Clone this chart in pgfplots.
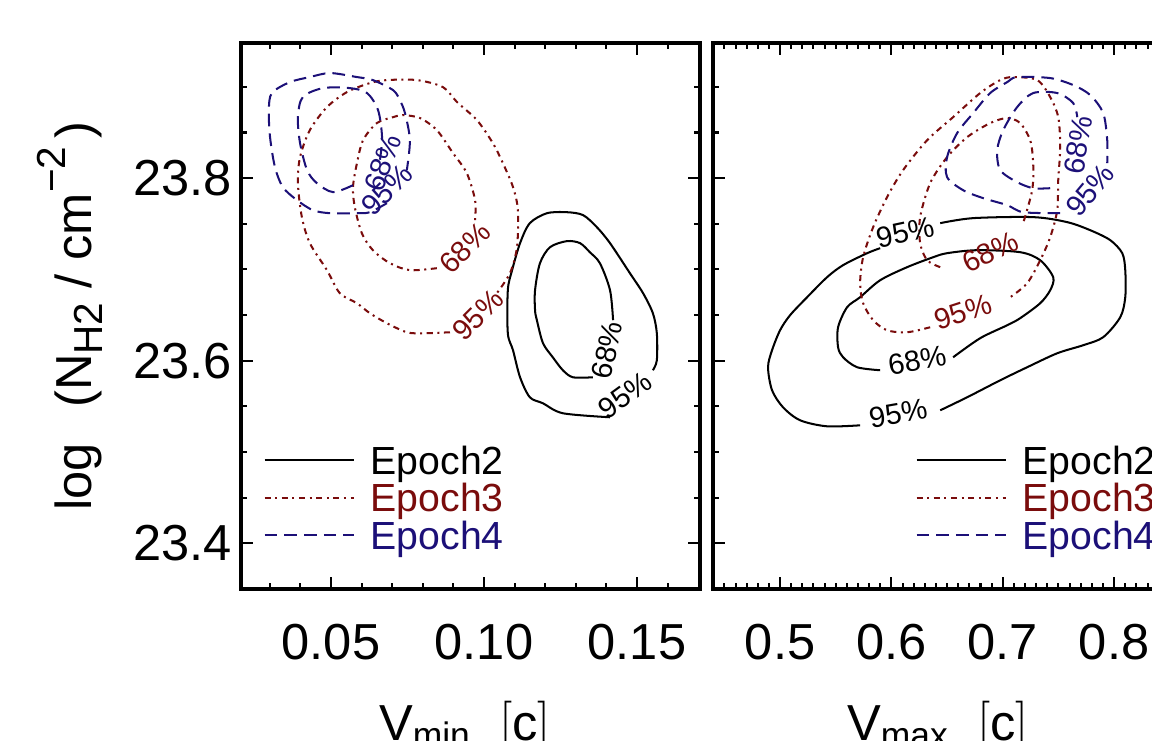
\documentclass[border=0pt]{standalone}
\usepackage{fontspec}
\setmainfont{Liberation Sans}
\usepackage{pgfplots}
\pgfplotsset{compat=1.18}
\definecolor{epThree}{HTML}{7A0C0C}
\definecolor{epFour}{HTML}{1C1078}

\pgfplotsset{
  panel/.style={
    scale only axis, width=6.375cm, height=7.583cm,
    ymin=23.35, ymax=23.948,
    ytick={23.4,23.6,23.8},
    minor ytick={23.45,23.5,23.55,23.65,23.7,23.75,23.85,23.9},
    axis line style={line width=1.3pt},
    tick style={line width=0.8pt, black},
    major tick length=0.16cm, minor tick length=0.08cm,
    tick align=inside,
    tick label style={font=\fontsize{20}{24}\selectfont},
    /pgf/number format/assume math mode=true,
    xticklabel style={yshift=-0.37cm},
    label style={font=\fontsize{20}{24}\selectfont},
    legend cell align=left,
    legend image code/.code={\draw[##1] (0cm,1.5pt) -- (1.24cm,1.5pt);},
    legend style={draw=none, fill=none, inner sep=0pt, column sep=0.22cm,
      row sep=0.3pt, nodes={inner sep=0pt, text height=11.2pt, text depth=3.3pt},
      font=\fontsize{15.5}{17}\selectfont, anchor=west},
  },
  l2/.style={black, line width=0.8pt},
  l3/.style={epThree, line width=0.8pt, dash pattern=on 2.4pt off 1.8pt on 0.8pt off 1.8pt},
  l4/.style={epFour, line width=0.8pt, dash pattern=on 5pt off 2.8pt},
  c2/.style={l2, smooth, forget plot},
  c3/.style={l3, smooth, forget plot},
  c4/.style={l4, smooth, forget plot},
}
\tikzset{clab/.style={font=\fontsize{11.5}{12}\selectfont, inner sep=0.5pt}}
\newcommand{\lowidx}[1]{\raisebox{-0.22em}{\fontsize{16}{16}\selectfont #1}}
\newcommand{\highidx}[1]{\raisebox{0.5em}{\fontsize{16}{16}\selectfont #1}}

\begin{document}
\begin{tikzpicture}
\path[use as bounding box] (0,0) rectangle (16cm,10.2917cm);
\clip (0,0) rectangle (16cm,10.2917cm);

% left panel: V_min
\begin{axis}[panel, at={(3.347cm,2.111cm)}, anchor=south west,
  xmin=0.0206, xmax=0.1706,
  xtick={0.05,0.10,0.15}, xticklabels={0.05,0.10,0.15},
  minor xtick={0.03,0.04,0.06,0.07,0.08,0.09,0.11,0.12,0.13,0.14,0.16},
  yticklabels={23.4,23.6,23.8},
  xlabel={V\textsubscript{min}\ \ $\Bigl[$c$\Bigr]$},
  xlabel style={at={(axis description cs:0.488,-0.2766)}, anchor=base},
  ylabel={log\hspace{0.7em}(N\lowidx{H2}\;/\;cm\highidx{−2}\,)},
  ylabel style={at={(axis description cs:-0.3725,0.5)}, anchor=center},
  legend style={at={(axis description cs:0.048,0.16)}},
]
% Epoch2
\addplot[c2] coordinates {(0.1552,23.5896) (0.1565,23.6005) (0.1565,23.6301) (0.1552,23.6521) (0.1520,23.6740) (0.1477,23.6959) (0.1412,23.7288) (0.1369,23.7463) (0.1324,23.7595) (0.1271,23.7627) (0.1206,23.7616) (0.1150,23.7507) (0.1118,23.7288) (0.1092,23.6992) (0.1078,23.6773) (0.1078,23.6301) (0.1095,23.6115) (0.1118,23.5819) (0.1150,23.5600) (0.1193,23.5534) (0.1258,23.5425) (0.1412,23.5381)};
\addplot[c2] coordinates {(0.1422,23.6444) (0.1412,23.6773) (0.1379,23.7068) (0.1346,23.7189) (0.1314,23.7288) (0.1271,23.7310) (0.1216,23.7244) (0.1183,23.7068) (0.1167,23.6773) (0.1167,23.6553) (0.1173,23.6444) (0.1193,23.6192) (0.1225,23.6038) (0.1258,23.5896) (0.1291,23.5819) (0.1356,23.5819)};
% Epoch3
\addplot[c3] coordinates {(0.0889,23.6312) (0.0801,23.6301) (0.0748,23.6312) (0.0683,23.6411) (0.0627,23.6521) (0.0585,23.6630) (0.0529,23.6740) (0.0487,23.6992) (0.0431,23.7288) (0.0405,23.7573) (0.0392,23.7945) (0.0399,23.8230) (0.0431,23.8526) (0.0487,23.8778) (0.0552,23.8942) (0.0627,23.9041) (0.0683,23.9074) (0.0781,23.9074) (0.0866,23.8997) (0.0912,23.8833) (0.0977,23.8636) (0.1029,23.8384) (0.1062,23.8164) (0.1095,23.7901) (0.1111,23.7649) (0.1108,23.7244) (0.1085,23.6959) (0.1042,23.6740)};
\addplot[c3] coordinates {(0.0846,23.7014) (0.0758,23.6992) (0.0693,23.7068) (0.0637,23.7211) (0.0601,23.7397) (0.0578,23.7682) (0.0572,23.7901) (0.0585,23.8164) (0.0605,23.8416) (0.0650,23.8603) (0.0703,23.8668) (0.0735,23.8690) (0.0791,23.8658) (0.0846,23.8526) (0.0899,23.8274) (0.0944,23.8055) (0.0971,23.7759) (0.0971,23.7540)};
% Epoch4
\addplot[c4] coordinates {(0.0683,23.7726) (0.0627,23.7627) (0.0585,23.7616) (0.0497,23.7616) (0.0441,23.7649) (0.0389,23.7759) (0.0343,23.7901) (0.0317,23.8121) (0.0301,23.8449) (0.0297,23.8745) (0.0307,23.8932) (0.0366,23.9052) (0.0431,23.9107) (0.0497,23.9151) (0.0585,23.9107) (0.0637,23.9074) (0.0703,23.8964) (0.0725,23.8855) (0.0742,23.8712) (0.0758,23.8416) (0.0748,23.8088)};
\addplot[c4] coordinates {(0.0572,23.7923) (0.0507,23.7847) (0.0454,23.7945) (0.0422,23.8088) (0.0399,23.8384) (0.0392,23.8668) (0.0408,23.8888) (0.0474,23.8986) (0.0562,23.8986) (0.0618,23.8932) (0.0654,23.8745) (0.0667,23.8449) (0.0660,23.8197)};
\node[clab, rotate=36] at (axis cs:0.1461,23.5622) {95\%};
\node[clab, rotate=78] at (axis cs:0.1402,23.6115) {68\%};
\node[clab, text=epThree, rotate=45] at (axis cs:0.0938,23.7233) {68\%};
\node[clab, text=epThree, rotate=45] at (axis cs:0.0980,23.6499) {95\%};
\node[clab, text=epFour, rotate=70] at (axis cs:0.0670,23.8164) {68\%};
\node[clab, text=epFour, rotate=45] at (axis cs:0.0683,23.7868) {95\%};
\addlegendimage{l2}\addlegendentry{Epoch2}
\addlegendimage{l3}\addlegendentry{\textcolor{epThree}{Epoch3}}
\addlegendimage{l4}\addlegendentry{\textcolor{epFour}{Epoch4}}
\end{axis}

% right panel: V_max
\begin{axis}[panel, at={(9.903cm,2.111cm)}, anchor=south west,
  xmin=0.4398, xmax=0.852,
  xtick={0.5,0.6,0.7,0.8}, xticklabels={0.5,0.6,0.7,0.8},
  minor xtick={0.44,0.45,...,0.85},
  yticklabels={},
  xlabel={V\textsubscript{max}\ \ $\Bigl[$c$\Bigr]$},
  xlabel style={at={(axis description cs:0.49,-0.2766)}, anchor=base},
  legend style={at={(axis description cs:0.44,0.16)}},
]
% Epoch2
\addplot[c2] coordinates {(0.6438,23.7507) (0.6734,23.7562) (0.7273,23.7573) (0.7579,23.7518) (0.7785,23.7430) (0.7965,23.7321) (0.8073,23.7178) (0.8100,23.6992) (0.8100,23.6696) (0.8055,23.6477) (0.7902,23.6258) (0.7722,23.6170) (0.7489,23.6082) (0.7219,23.5929) (0.6977,23.5786) (0.6680,23.5600) (0.6438,23.5457)};
\addplot[c2] coordinates {(0.5719,23.5293) (0.5422,23.5282) (0.5180,23.5348) (0.5027,23.5490) (0.4928,23.5677) (0.4892,23.5929) (0.4928,23.6115) (0.5000,23.6334) (0.5090,23.6499) (0.5243,23.6696) (0.5422,23.6915) (0.5566,23.7047) (0.5782,23.7178) (0.5899,23.7233)};
\addplot[c2] coordinates {(0.5899,23.5896) (0.5692,23.5929) (0.5566,23.6038) (0.5521,23.6148) (0.5521,23.6367) (0.5602,23.6586) (0.5719,23.6696) (0.5899,23.6882) (0.6141,23.7025) (0.6375,23.7134) (0.6500,23.7178) (0.6770,23.7211) (0.7156,23.7189) (0.7336,23.7101) (0.7453,23.6915) (0.7426,23.6773) (0.7336,23.6630) (0.7156,23.6466) (0.7040,23.6389) (0.6797,23.6247) (0.6554,23.6038)};
% Epoch3
\addplot[c3] coordinates {(0.6348,23.6367) (0.6141,23.6312) (0.5961,23.6334) (0.5836,23.6444) (0.5746,23.6630) (0.5719,23.6849) (0.5746,23.7134) (0.5836,23.7463) (0.5961,23.7792) (0.6105,23.8088) (0.6321,23.8416) (0.6554,23.8668) (0.6797,23.8932) (0.6977,23.9074) (0.7094,23.9107) (0.7309,23.9074) (0.7426,23.8888) (0.7498,23.8668) (0.7516,23.8340) (0.7498,23.7978) (0.7489,23.7649) (0.7426,23.7353) (0.7336,23.7101) (0.7219,23.6849) (0.7067,23.6696)};
\addplot[c3] coordinates {(0.6438,23.7025) (0.6321,23.7101) (0.6258,23.7288) (0.6258,23.7573) (0.6348,23.7945) (0.6500,23.8230) (0.6680,23.8449) (0.6887,23.8603) (0.7040,23.8658) (0.7156,23.8603) (0.7246,23.8416) (0.7273,23.8164) (0.7264,23.7868) (0.7183,23.7507)};
% Epoch4
\addplot[c4] coordinates {(0.7516,23.7616) (0.7183,23.7627) (0.7040,23.7704) (0.6824,23.7781) (0.6644,23.7868) (0.6500,23.8011) (0.6500,23.8230) (0.6590,23.8493) (0.6734,23.8712) (0.6887,23.8932) (0.7040,23.9052) (0.7129,23.9107) (0.7426,23.9096) (0.7633,23.9019) (0.7785,23.8910) (0.7902,23.8712) (0.7938,23.8416) (0.7938,23.8164)};
\addplot[c4] coordinates {(0.7426,23.7890) (0.7273,23.7890) (0.7129,23.7956) (0.6977,23.8088) (0.6950,23.8307) (0.7004,23.8526) (0.7129,23.8778) (0.7273,23.8932) (0.7489,23.8932) (0.7633,23.8822) (0.7669,23.8668)};
\node[clab, rotate=12] at (axis cs:0.6123,23.7408) {95\%};
\node[clab, rotate=10] at (axis cs:0.6231,23.6005) {68\%};
\node[clab, rotate=10] at (axis cs:0.6060,23.5425) {95\%};
\node[clab, text=epThree, rotate=25] at (axis cs:0.6887,23.7189) {68\%};
\node[clab, text=epThree, rotate=18] at (axis cs:0.6644,23.6531) {95\%};
\node[clab, text=epFour, rotate=80] at (axis cs:0.7678,23.8362) {68\%};
\node[clab, text=epFour, rotate=50] at (axis cs:0.7785,23.7868) {95\%};
\addlegendimage{l2}\addlegendentry{Epoch2}
\addlegendimage{l3}\addlegendentry{\textcolor{epThree}{Epoch3}}
\addlegendimage{l4}\addlegendentry{\textcolor{epFour}{Epoch4}}
\end{axis}
\end{tikzpicture}
\end{document}
